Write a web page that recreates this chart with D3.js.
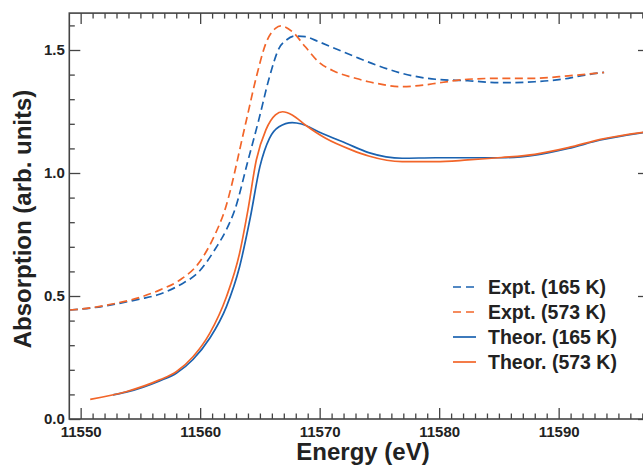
<!DOCTYPE html>
<html>
<head>
<meta charset="utf-8">
<script src="https://cdn.jsdelivr.net/npm/d3@7"></script>
<style>
body { margin: 0; background: #fff; }
svg { display: block; }
text { font-family: "Liberation Sans", Arial, sans-serif; font-weight: bold; fill: #222; }
</style>
</head>
<body>
<svg></svg>
<script>
var width = 643,
	height = 465,
	blue = "#1a62b0",
	orange = "#f26529";

// Expt. (165 K), dashed blue
var expt165E = [11549.1, 11551, 11553, 11555, 11556.6, 11558.3, 11559.9, 11561.3, 11562.2, 11562.9, 11564, 11564.9, 11565.8, 11566.6, 11567.2, 11567.9, 11568.8, 11569.9, 11571.6, 11573.3, 11574.9, 11576.9, 11579.7, 11582.4, 11585.2, 11588, 11590.8, 11592.2, 11593.8];
var expt165A = [0.443, 0.452, 0.468, 0.488, 0.507, 0.545, 0.599, 0.694, 0.77, 0.85, 1.05, 1.215, 1.39, 1.507, 1.54, 1.557, 1.554, 1.534, 1.5, 1.466, 1.436, 1.405, 1.381, 1.375, 1.367, 1.371, 1.385, 1.398, 1.409];

// Expt. (573 K), dashed orange
var expt573E = [11549.1, 11551, 11553, 11555, 11556.6, 11558.3, 11559.9, 11561.3, 11562, 11563.8, 11564.7, 11565.5, 11566.3, 11566.75, 11567.7, 11568.8, 11569.9, 11571.3, 11573, 11574.1, 11575, 11576.6, 11578.3, 11580.2, 11582.4, 11585.2, 11588, 11590.8, 11593.8];
var expt573A = [0.443, 0.453, 0.471, 0.495, 0.524, 0.565, 0.635, 0.756, 0.84, 1.2, 1.39, 1.527, 1.588, 1.598, 1.575, 1.513, 1.452, 1.412, 1.385, 1.371, 1.362, 1.351, 1.355, 1.368, 1.381, 1.385, 1.385, 1.395, 1.409];

// Theor. (165 K), solid blue
var theo165E = [11552.7, 11553.8, 11556.6, 11558, 11559.4, 11560.8, 11562.2, 11563.3, 11564.2, 11565, 11565.8, 11566.6, 11567.7, 11568.5, 11569.9, 11572.2, 11574.1, 11576.9, 11579.7, 11582.4, 11585.2, 11588, 11590.8, 11593.5, 11597.6];
var theo165A = [0.098, 0.109, 0.155, 0.186, 0.242, 0.328, 0.457, 0.619, 0.82, 1.026, 1.141, 1.188, 1.205, 1.199, 1.168, 1.121, 1.083, 1.06, 1.062, 1.062, 1.062, 1.073, 1.1, 1.134, 1.168];

// Theor. (573 K), solid orange
var theo573E = [11550.8, 11553.8, 11556.6, 11558, 11559.4, 11560.8, 11562.2, 11563.3, 11564, 11564.7, 11565.5, 11566.3, 11566.9, 11567.7, 11568.8, 11570.5, 11572.7, 11574.1, 11576.9, 11579.7, 11582.4, 11585.2, 11588, 11590.8, 11593.5, 11597.6];
var theo573A = [0.08, 0.111, 0.159, 0.192, 0.253, 0.348, 0.497, 0.674, 0.85, 1.053, 1.175, 1.236, 1.249, 1.236, 1.195, 1.141, 1.093, 1.069, 1.046, 1.046, 1.053, 1.063, 1.076, 1.103, 1.137, 1.169];

var xTicks = [11550, 11560, 11570, 11580, 11590];
var yTicks = [0, 0.5, 1.0, 1.5];
var legendLabels = ["Expt. (165 K)", "Expt. (573 K)", "Theor. (165 K)", "Theor. (573 K)"];

var svg = d3.select("svg").attr("width", width).attr("height", height);

var x = d3.scaleLinear().domain([11549.05, 11597.56]).range([69.3, 649]);
var y = d3.scaleLinear().domain([0, 1.65]).range([419, 13.1]);

var xMinor = d3.range(11549, 11598, 1).filter(function(d){ return d % 10 !== 0 && d > 11549.05; });
var yMinor = d3.range(1, 17, 1).map(function(d){ return d/10; }).filter(function(d){ return Math.round(d*10) % 5 !== 0; });

var plotLeft = x.range()[0], plotRight = x.range()[1], plotTop = y.range()[1], plotBottom = y.range()[0];

function styleAxis(g) {
	g.select(".domain").remove();
	g.selectAll(".tick line").attr("stroke", "#444").attr("stroke-width", 1.3);
	g.selectAll(".tick text").attr("font-size", 15).attr("fill", "#222").attr("font-family", null);
}

// bottom
svg.append("g").attr("transform", "translate(0," + plotBottom + ")")
	.call(d3.axisBottom(x).tickValues(xMinor).tickSize(-5.5).tickFormat(""))
	.call(styleAxis);
svg.append("g").attr("transform", "translate(0," + plotBottom + ")")
	.call(d3.axisBottom(x).tickValues(xTicks).tickSize(-11).tickPadding(7).tickFormat(d3.format("d")))
	.call(styleAxis);
// top
svg.append("g").attr("transform", "translate(0," + plotTop + ")")
	.call(d3.axisTop(x).tickValues(xMinor).tickSize(-5.5).tickFormat(""))
	.call(styleAxis);
svg.append("g").attr("transform", "translate(0," + plotTop + ")")
	.call(d3.axisTop(x).tickValues(xTicks).tickSize(-11).tickFormat(""))
	.call(styleAxis);
// left
svg.append("g").attr("transform", "translate(" + plotLeft + ",0)")
	.call(d3.axisLeft(y).tickValues(yMinor).tickSize(-5.5).tickFormat(""))
	.call(styleAxis);
svg.append("g").attr("transform", "translate(" + plotLeft + ",0)")
	.call(d3.axisLeft(y).tickValues(yTicks).tickSize(-11).tickPadding(4.5).tickFormat(d3.format(".1f")))
	.call(styleAxis);
// right
svg.append("g").attr("transform", "translate(" + plotRight + ",0)")
	.call(d3.axisRight(y).tickValues(yMinor).tickSize(-5.5).tickFormat(""))
	.call(styleAxis);
svg.append("g").attr("transform", "translate(" + plotRight + ",0)")
	.call(d3.axisRight(y).tickValues(yTicks).tickSize(-11).tickFormat(""))
	.call(styleAxis);

svg.append("rect")
	.attr("x", plotLeft).attr("y", plotTop)
	.attr("width", plotRight - plotLeft).attr("height", plotBottom - plotTop)
	.attr("fill", "none").attr("stroke", "#444").attr("stroke-width", 1.6);

svg.append("clipPath").attr("id", "plotclip")
	.append("rect").attr("x", plotLeft).attr("y", plotTop)
	.attr("width", plotRight - plotLeft).attr("height", plotBottom - plotTop);

var line = d3.line()
	.x(function(d){ return x(d[0]); })
	.y(function(d){ return y(d[1]); })
	.curve(d3.curveMonotoneX);

var series = [
	{ e: expt165E, a: expt165A, color: blue, dash: "8,4.5" },
	{ e: expt573E, a: expt573A, color: orange, dash: "8,4.5" },
	{ e: theo165E, a: theo165A, color: blue, dash: null },
	{ e: theo573E, a: theo573A, color: orange, dash: null }
];

var lines = svg.append("g").attr("clip-path", "url(#plotclip)");
series.forEach(function(s){
	lines.append("path")
		.attr("d", line(d3.zip(s.e, s.a)))
		.attr("fill", "none")
		.attr("stroke", s.color)
		.attr("stroke-width", 1.7)
		.attr("stroke-dasharray", s.dash);
});

// legend
var legend = svg.append("g");
legendLabels.forEach(function(label, i){
	var ly = 287 + i*25;
	legend.append("line")
		.attr("x1", 453).attr("x2", 476).attr("y1", ly).attr("y2", ly)
		.attr("stroke", series[i].color).attr("stroke-width", 1.7)
		.attr("stroke-dasharray", series[i].dash ? "8,5" : null);
	legend.append("text")
		.attr("x", 488).attr("y", ly).attr("dy", "0.35em")
		.attr("font-size", 19.5)
		.text(label);
});

// axis titles
svg.append("text")
	.attr("x", 363).attr("y", 460)
	.attr("text-anchor", "middle").attr("font-size", 24)
	.text("Energy (eV)");
svg.append("text")
	.attr("transform", "translate(31,219) rotate(-90)")
	.attr("text-anchor", "middle").attr("font-size", 24)
	.text("Absorption (arb. units)");
</script>
</body>
</html>
